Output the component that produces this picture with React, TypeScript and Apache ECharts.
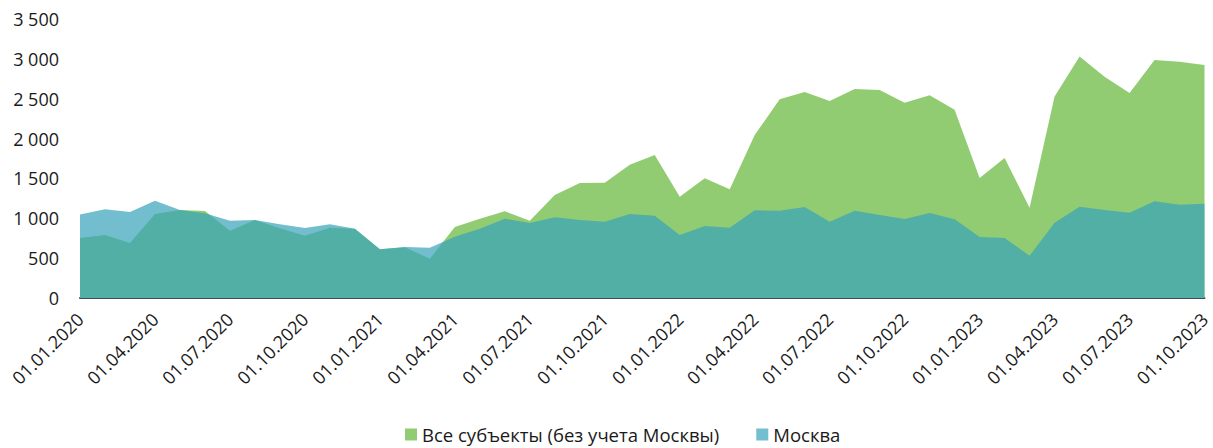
import React, { useEffect, useRef } from "react";
import * as echarts from "echarts";

const categories: string[] = [
  "01.01.2020", "01.02.2020", "01.03.2020", "01.04.2020", "01.05.2020", "01.06.2020",
  "01.07.2020", "01.08.2020", "01.09.2020", "01.10.2020", "01.11.2020", "01.12.2020",
  "01.01.2021", "01.02.2021", "01.03.2021", "01.04.2021", "01.05.2021", "01.06.2021",
  "01.07.2021", "01.08.2021", "01.09.2021", "01.10.2021", "01.11.2021", "01.12.2021",
  "01.01.2022", "01.02.2022", "01.03.2022", "01.04.2022", "01.05.2022", "01.06.2022",
  "01.07.2022", "01.08.2022", "01.09.2022", "01.10.2022", "01.11.2022", "01.12.2022",
  "01.01.2023", "01.02.2023", "01.03.2023", "01.04.2023", "01.05.2023", "01.06.2023",
  "01.07.2023", "01.08.2023", "01.09.2023", "01.10.2023",
];

const allRegions: number[] = [
  752, 790, 690, 1053, 1104, 1091, 844, 978, 874, 781, 882, 869,
  610, 636, 493, 890, 995, 1087, 970, 1292, 1442, 1446, 1672, 1793,
  1271, 1501, 1363, 2044, 2492, 2583, 2470, 2621, 2608, 2450, 2542, 2362,
  1505, 1756, 1133, 2529, 3031, 2775, 2571, 2985, 2963, 2922,
];

const moscow: number[] = [
  1049, 1112, 1078, 1220, 1104, 1062, 970, 978, 924, 878, 924, 869,
  610, 640, 631, 769, 869, 995, 941, 1012, 978, 957, 1053, 1032,
  790, 903, 882, 1100, 1095, 1141, 957, 1095, 1041, 991, 1066, 987,
  765, 752, 531, 944, 1145, 1104, 1070, 1213, 1170, 1183,
];

const yTicks = { min: 0, max: 3500, interval: 500 };

const seriesNames = ["Все субъекты (без учета Москвы)", "Москва"];

const FONT = "'Open Sans', sans-serif";

export default function App() {
  const ref = useRef<HTMLDivElement>(null);
  useEffect(() => {
    if (!ref.current) return;
    const chart = echarts.init(ref.current, undefined, { renderer: "svg" });
    chart.setOption({
      animation: false,
      backgroundColor: "#ffffff",
      grid: { left: 80, right: 4, top: 19, bottom: 150, containLabel: false },
      legend: {
        bottom: -1,
        left: 400,
        icon: "rect",
        itemWidth: 12,
        itemHeight: 12,
        itemGap: 37,
        textStyle: { fontFamily: FONT, fontSize: 18.5, color: "#1a1a1a" },
        data: [
          { name: seriesNames[0], itemStyle: { color: "#92CC72" } },
          { name: seriesNames[1], itemStyle: { color: "#73BFCF" } },
        ],
      },
      xAxis: {
        type: "category",
        data: categories,
        boundaryGap: false,
        axisLine: { lineStyle: { color: "#3F4E56", width: 2 } },
        axisTick: { show: false },
        axisLabel: {
          interval: 2,
          rotate: 45,
          margin: 18,
          fontFamily: FONT,
          fontSize: 18,
          color: "#1a1a1a",
        },
      },
      yAxis: {
        type: "value",
        min: yTicks.min,
        max: yTicks.max,
        interval: yTicks.interval,
        splitLine: { show: false },
        axisLine: { show: false },
        axisTick: { show: false },
        axisLabel: {
          margin: 21,
          fontFamily: FONT,
          fontSize: 18,
          color: "#1a1a1a",
          formatter: (v: number) => String(v).replace(/\B(?=(\d{3})+(?!\d))/g, " "),
        },
      },
      series: [
        {
          name: seriesNames[0],
          type: "line",
          data: allRegions,
          symbol: "none",
          lineStyle: { width: 0 },
          itemStyle: { color: "#92CC72" },
          areaStyle: { color: "#92CC72", opacity: 1 },
          z: 2,
        },
        {
          name: seriesNames[1],
          type: "line",
          data: moscow,
          symbol: "none",
          lineStyle: { width: 0 },
          itemStyle: { color: "#73BFCF" },
          areaStyle: { color: "rgb(54,163,186)", opacity: 0.7 },
          z: 3,
        },
      ],
    });
    return () => chart.dispose();
  }, []);
  return (
    <div
      ref={ref}
      style={{ position: "absolute", left: 0, top: 0, width: 1213, height: 448 }}
    />
  );
}
